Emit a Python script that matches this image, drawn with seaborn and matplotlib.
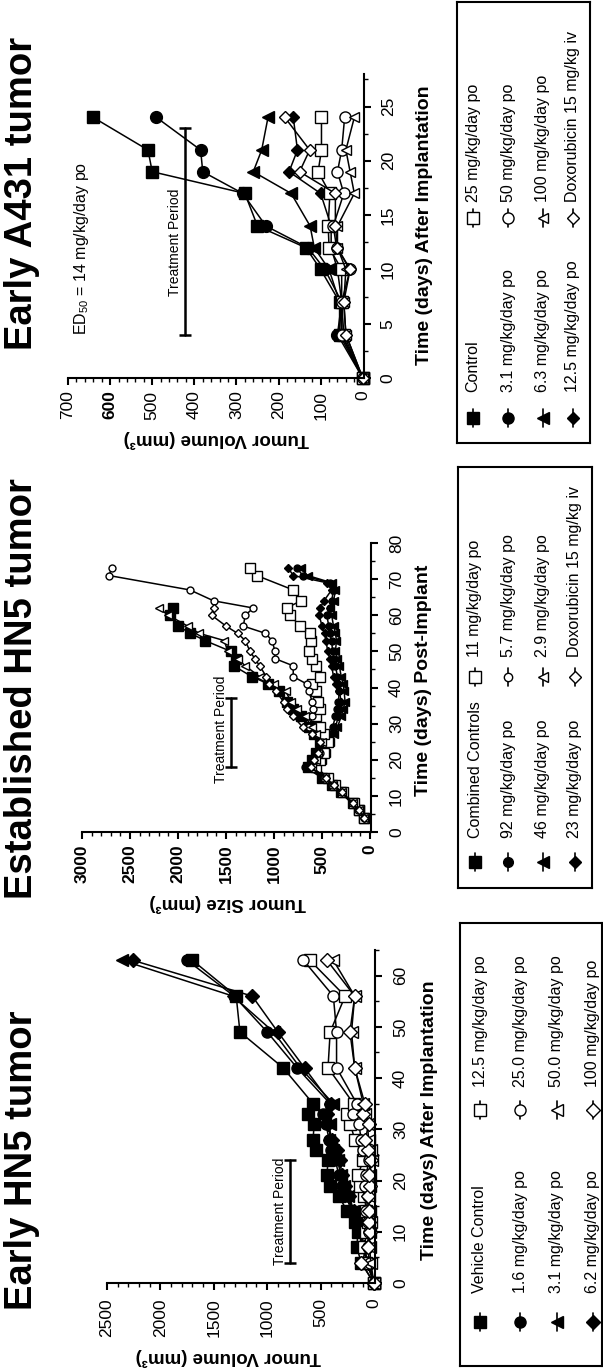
import numpy as np
import pandas as pd
import matplotlib
matplotlib.use("Agg")
import matplotlib.pyplot as plt
from matplotlib.ticker import MultipleLocator
import seaborn as sns

nan = np.nan

# ---------------- Early HN5 tumor ----------------
early_days = [0, 4, 7, 10, 12, 14, 17, 19, 21, 24, 26, 28, 31, 33, 35, 42, 49, 56, 63]
early_vehicle = [0, 120, 160, 150, 180, 250, 330, 410, 440, 430, 540, 570, 560, 620, 570, 850, 1255, 1290, 1700]
early_1_6 = [0, 60, 110, 140, 170, 210, 260, 300, 330, 360, 400, 420, 450, 480, 410, 720, 1000, 1310, 1750]
early_3_1 = [0, 50, 100, 130, 160, 200, 240, 280, 310, 340, 380, 420, 410, 460, 380, 690, 940, 1320, 2360]
early_6_2 = [0, 60, 90, 120, 150, 190, 230, 270, 300, 320, 350, 390, 430, 440, 400, 650, 900, 1140, 2260]
early_12_5 = [0, 70, 90, 70, 60, 70, 90, 130, 150, 100, 90, 180, 220, 250, 190, 430, 410, 270, 600]
early_25 = [0, 40, 60, 50, 60, 70, 60, 80, 70, 50, 100, 120, 140, 200, 160, 350, 350, 380, 660]
early_50 = [0, 30, 40, 40, 30, 40, 50, 40, 40, 20, 30, 50, 60, 80, 100, 180, 210, 180, 380]
early_100 = [0, 120, 60, 40, 50, 50, 60, 40, 50, 30, 60, 80, 50, 100, 85, 180, 225, 180, 440]
early_labels = ["Vehicle Control", "1.6 mg/kg/day po", "3.1 mg/kg/day po", "6.2 mg/kg/day po",
                "12.5 mg/kg/day po", "25.0 mg/kg/day po", "50.0 mg/kg/day po", "100 mg/kg/day po"]

# ---------------- Established HN5 tumor ----------------
est_days = [4, 6, 8, 11, 13, 15, 18, 20, 22, 25, 27, 29, 32, 34, 36, 39, 41, 43, 46, 48,
            50, 53, 55, 57, 60, 62, 64, 67, 69, 71, 73]
est_controls = [60, 120, 180, 300, 400, 500, 650, 600, 560, 520, 580, 640, 720, 800, 860, 950, 1060, 1230,
                1420, 1400, 1450, 1720, 1870, 2000, 2080, 2050, nan, nan, nan, nan, nan]
est_92 = [60, 130, 190, 310, 400, 500, 680, 560, 500, 450, 420, 390, 360, 340, 330, 320, 330, 340,
          360, 380, 390, 400, 420, 430, 450, 420, 400, 380, 420, 700, 760]
est_46 = [60, 120, 180, 290, 380, 460, 560, 500, 460, 420, 380, 340, 300, 280, 260, 270, 280, 300,
          320, 340, 360, 350, 360, 380, 400, 420, 380, 360, 400, 650, 720]
est_23 = [60, 130, 190, 300, 390, 480, 600, 540, 480, 440, 400, 360, 330, 310, 300, 320, 350, 380,
          400, 420, 440, 460, 470, 500, 530, 520, 480, 400, 450, 800, 850]
est_11 = [60, 120, 170, 280, 360, 440, 560, 520, 480, 440, 480, 520, 560, 520, 540, 560, 600, 520,
          560, 600, 640, 620, 625, 730, 830, 870, 720, 800, nan, 1180, 1250]
est_5_7 = [60, 130, 190, 300, 400, 480, 620, 560, 520, 500, 560, 640, 600, 590, 600, 640, 660, 800,
           800, 990, 990, 1020, 1090, 1320, 1300, 1215, 1630, 1875, nan, 2720, 2690]
est_2_9 = [60, 120, 180, 290, 390, 470, 600, 560, 540, 500, 560, 600, 680, 760, 820, 880, 1000, 1150,
           1300, 1380, 1480, 1520, 1780, 1900, 2100, 2200, nan, nan, nan, nan, nan]
est_dox = [60, 120, 180, 290, 380, 460, 620, 580, 540, 520, 600, 700, 800, 860, 900, 980, 1050, 1080,
           1150, 1200, 1250, 1300, 1380, 1500, 1650, 1630, nan, nan, nan, nan, nan]
est_labels = ["Combined Controls", "92 mg/kg/day po", "46 mg/kg/day po", "23 mg/kg/day po",
              "11 mg/kg/day po", "5.7 mg/kg/day po", "2.9 mg/kg/day po", "Doxorubicin 15 mg/kg iv"]

# ---------------- Early A431 tumor ----------------
a431_days = [0, 4, 7, 10, 12, 14, 17, 19, 21, 24]
a431_control = [0, 55, 55, 100, 135, 250, 280, 500, 510, 640]
a431_3_1 = [0, 60, 50, 90, 130, 230, 285, 380, 385, 490]
a431_6_3 = [0, 50, 55, 80, 115, 125, 170, 260, 240, 225]
a431_12_5 = [0, 50, 50, 60, 75, 75, 100, 175, 155, 165]
a431_25 = [0, 45, 50, 50, 80, 82, 78, 106, 98, 98]
a431_50 = [0, 50, 50, 30, 62, 70, 45, 60, 50, 43]
a431_100 = [0, 40, 45, 40, 60, 60, 20, 30, 40, 20]
a431_dox = [0, 40, 45, 30, 60, 65, 65, 150, 126, 185]
a431_labels = ["Control", "3.1 mg/kg/day po", "6.3 mg/kg/day po", "12.5 mg/kg/day po",
               "25 mg/kg/day po", "50 mg/kg/day po", "100 mg/kg/day po", "Doxorubicin 15 mg/kg iv"]

# marker / fill for the 8 groups (same order in every panel)
markers = ["s", "o", "<", "D", "s", "o", "<", "D"]
filled = [True, True, True, True, False, False, False, False]

sns.set_theme(style="ticks")
plt.rcParams["font.family"] = ["Liberation Sans", "DejaVu Sans"]
plt.rcParams["mathtext.default"] = "regular"
for k in ["text.color", "axes.labelcolor", "xtick.color", "ytick.color", "axes.edgecolor"]:
    plt.rcParams[k] = "black"

W, H = 603, 1371
fig = plt.figure(figsize=(W / 100, H / 100), dpi=100)


def px_axes(x0, y0, x1, y1):
    return fig.add_axes([x0 / W, 1 - y1 / H, (x1 - x0) / W, (y1 - y0) / H])


def draw_series(ax, days, vals, marker, full, ms):
    d = pd.DataFrame({"day": days, "vol": vals}).dropna()
    sns.lineplot(data=d, x="vol", y="day", orient="y", ax=ax, color="black",
                 estimator=None, errorbar=None, linewidth=1.1,
                 marker=marker, markersize=ms,
                 markerfacecolor="black" if full else "white",
                 markeredgecolor="black", markeredgewidth=1.0, clip_on=False)


def style_axes(ax, vmax, vmaj, vmin, tmax, tmaj, tmin, vpad, tpad, vbold=False):
    ax.invert_xaxis()
    ax.spines["top"].set_visible(False)
    ax.spines["left"].set_visible(False)
    ax.spines["bottom"].set_linewidth(1.5)
    ax.spines["right"].set_linewidth(1.5)
    ax.yaxis.tick_right()
    ax.set_xticks(np.arange(0, vmax + 1, vmaj))
    ax.xaxis.set_minor_locator(MultipleLocator(vmin))
    ax.set_yticks(np.arange(0, tmax + 0.1, tmaj))
    ax.yaxis.set_minor_locator(MultipleLocator(tmin))
    ax.tick_params(axis="both", which="major", direction="out", length=5, width=1.5, labelsize=12.5)
    ax.tick_params(axis="both", which="minor", direction="out", length=3, width=1)
    ax.tick_params(axis="x", labelrotation=90, pad=vpad)
    ax.tick_params(axis="y", labelrotation=90, pad=tpad)
    plt.setp(ax.get_yticklabels(), va="center")
    if vbold:
        plt.setp(ax.get_xticklabels(), fontweight="bold")
    ax.set_xlabel("")
    ax.set_ylabel("")
    ax.set_facecolor("none")


def treatment_bar(ax, vol, t0, t1, t_text):
    ax.plot([vol, vol], [t0, t1], color="black", lw=1.8)
    ax.plot([vol, vol], [t0, t1], ls="none", marker="_", ms=9, mew=1.8, color="black")
    ax.annotate("Treatment Period", xy=(vol, t_text), xytext=(-2, 0), textcoords="offset points",
                rotation=90, ha="right", va="center", fontsize=10)


def draw_legend(box, rows_x, marker_y, text_y, labels, ms):
    x0, y0, x1, y1 = box
    lax = px_axes(x0, y0, x1, y1)
    lax.set_xlim(x0, x1)
    lax.set_ylim(y1, y0)
    lax.set_xticks([])
    lax.set_yticks([])
    for sp in lax.spines.values():
        sp.set_linewidth(1.5)
    for i, lab in enumerate(labels):
        col = i // 4
        x = rows_x[i % 4]
        my = marker_y[col]
        lax.plot([x, x], [my - 9, my + 9], color="black", lw=1.2)
        lax.plot([x], [my], marker=markers[i], ms=ms[i], color="black",
                 mfc="black" if filled[i] else "white", mec="black", mew=1.0)
        lax.text(x, text_y[col], lab, rotation=90, ha="center", va="bottom", fontsize=11.5)


# ---------------- panel 1: Early HN5 ----------------
ax1 = px_axes(107, 950, 375, 1283)
ax1.set_xlim(2500, -10)
ax1.set_ylim(0, 65)
sizes1 = [9, 8, 9, 7, 8.5, 8, 8, 7]
early_series = [early_vehicle, early_1_6, early_3_1, early_6_2,
                early_12_5, early_25, early_50, early_100]
for i, vals in enumerate(early_series):
    draw_series(ax1, early_days, vals, markers[i], filled[i], sizes1[i])
style_axes(ax1, 2500, 500, 100, 60, 10, 5, vpad=6, tpad=8)
ax1.set_xlim(2500, -10)
ax1.set_ylim(0, 65)
treatment_bar(ax1, 785, 4, 24, 14)
ax1.text(0.452, -0.222, "Tumor Volume (mm³)", transform=ax1.transAxes, rotation=180,
         ha="center", va="center", fontsize=13.5, fontweight="bold")
ax1.text(1.205, 0.489, "Time (days) After Implantation", transform=ax1.transAxes, rotation=90,
         ha="center", va="center", fontsize=14, fontweight="bold")
draw_legend((460, 923, 602, 1366), [480, 520, 557, 593], [1322, 1110], [1293, 1087],
            early_labels, [9, 8, 9, 7, 9, 8, 8, 7])

# ---------------- panel 2: Established HN5 ----------------
ax2 = px_axes(82, 543, 371, 832)
sizes2 = [7, 5, 6, 4.5, 7, 5, 6, 4.5]
est_series = [est_controls, est_92, est_46, est_23, est_11, est_5_7, est_2_9, est_dox]
for i, vals in enumerate(est_series):
    draw_series(ax2, est_days, vals, markers[i], filled[i], sizes2[i])
style_axes(ax2, 3000, 500, 100, 80, 10, 5, vpad=4, tpad=8, vbold=True)
ax2.set_xlim(3000, -10)
ax2.set_ylim(0, 80)
treatment_bar(ax2, 1450, 18, 37, 28.3)
ax2.text(0.505, -0.246, "Tumor Size (mm³)", transform=ax2.transAxes, rotation=180,
         ha="center", va="center", fontsize=13.5, fontweight="bold")
ax2.text(1.183, 0.526, "Time (days) Post-Implant", transform=ax2.transAxes, rotation=90,
         ha="center", va="center", fontsize=14, fontweight="bold")
draw_legend((458, 467, 592, 888), [475, 508, 543, 575], [862, 677], [838, 657],
            est_labels, [9, 7, 8, 6, 8, 6, 7, 6])

# ---------------- panel 3: Early A431 ----------------
ax3 = px_axes(68, 74, 364, 378)
sizes3 = [9, 8.5, 8, 6.5, 8, 8, 7, 6.5]
a431_series = [a431_control, a431_3_1, a431_6_3, a431_12_5, a431_25, a431_50, a431_100, a431_dox]
for i, vals in enumerate(a431_series):
    draw_series(ax3, a431_days, vals, markers[i], filled[i], sizes3[i])
style_axes(ax3, 700, 100, 20, 25, 5, 2.5, vpad=4, tpad=7)
ax3.set_xlim(700, -3)
ax3.set_ylim(0, 28)
for lbl in ax3.get_xticklabels():
    if lbl.get_text() == "600":
        lbl.set_fontweight("bold")
treatment_bar(ax3, 423, 4, 23, 12.5)
ax3.text(667, 4, r"ED$_{50}$ = 14 mg/kg/day po", rotation=90, ha="center", va="bottom", fontsize=11.5)
ax3.text(0.5, -0.2, "Tumor Volume (mm³)", transform=ax3.transAxes, rotation=180,
         ha="center", va="center", fontsize=13.5, fontweight="bold")
ax3.text(1.206, 0.503, "Time (days) After Implantation", transform=ax3.transAxes, rotation=90,
         ha="center", va="center", fontsize=14, fontweight="bold")
draw_legend((457, 2, 590, 443), [473, 508, 543, 573], [418, 218], [392, 202],
            a431_labels, [9, 8, 8, 6, 8, 8, 7, 6])

# ---------------- titles ----------------
fig.text(22 / W, 1 - 1160 / H, "Early HN5 tumor", rotation=90, ha="center", va="center",
         fontsize=27.5, fontweight="bold")
fig.text(22 / W, 1 - 689 / H, "Established HN5 tumor", rotation=90, ha="center", va="center",
         fontsize=27.5, fontweight="bold")
fig.text(22 / W, 1 - 193 / H, "Early A431 tumor", rotation=90, ha="center", va="center",
         fontsize=27.5, fontweight="bold")

fig.savefig("out.png", dpi=100, facecolor="white")
